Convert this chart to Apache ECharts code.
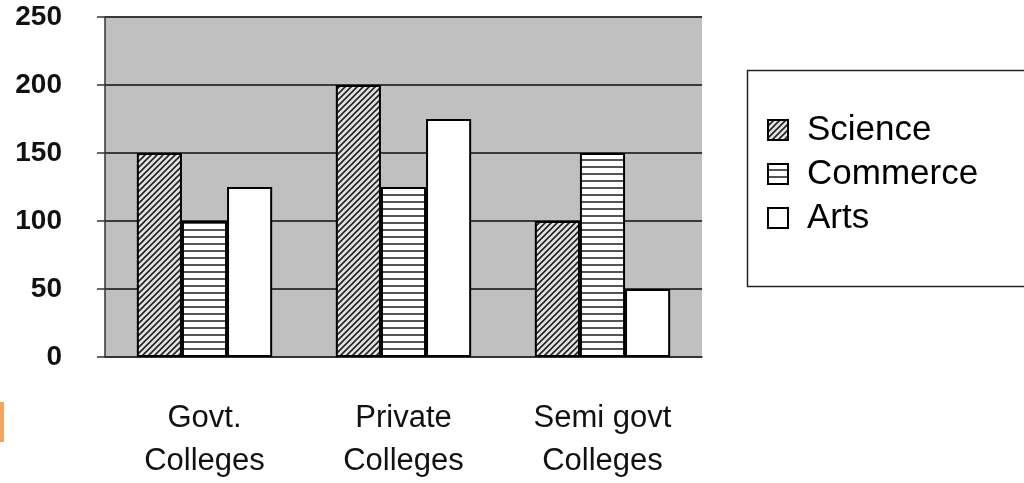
<!DOCTYPE html>
<html>
<head>
<meta charset="utf-8">
<script src="https://cdn.jsdelivr.net/npm/echarts@6/dist/echarts.min.js"></script>
<style>
  html, body { margin: 0; padding: 0; background: #fff; }
  #chart { width: 1024px; height: 483px; }
</style>
</head>
<body>
<div id="chart"></div>
<script>
// data
var categories = ['Govt.\nColleges', 'Private\nColleges', 'Semi govt\nColleges']
var science = [150, 200, 100]
var commerce = [100, 125, 150]
var arts = [125, 175, 50]
var yTicks = { min: 0, max: 250, interval: 50 }

// diagonal hatch for Science
function makeHatch() {
    var c = document.createElement('canvas')
    c.width = 6
    c.height = 6
    var ctx = c.getContext('2d')
    ctx.fillStyle = '#e4e4e4'
    ctx.fillRect(0, 0, 6, 6)
    ctx.strokeStyle = '#222'
    ctx.lineWidth = 1.6
    ctx.beginPath()
    ctx.moveTo(-1, 7); ctx.lineTo(7, -1)
    ctx.moveTo(-4, 4); ctx.lineTo(4, -4)
    ctx.moveTo(2, 10); ctx.lineTo(10, 2)
    ctx.stroke()
    return c
}
// horizontal lines for Commerce
function makeLines() {
    var c = document.createElement('canvas')
    c.width = 4
    c.height = 7
    var ctx = c.getContext('2d')
    ctx.fillStyle = '#fff'
    ctx.fillRect(0, 0, 4, 7)
    ctx.fillStyle = '#555'
    ctx.fillRect(0, 5, 4, 2)
    return c
}

var chart = echarts.init(document.getElementById('chart'))
var barStyle = { borderColor: '#000', borderWidth: 2 }

chart.setOption({
    animation: false,
    grid: { left: 105, right: 322, top: 17, bottom: 126, show: true, backgroundColor: '#c0c0c0', borderWidth: 0 },
    legend: {
        orient: 'vertical',
        left: 762,
        top: 107,
        itemWidth: 20,
        itemHeight: 20,
        itemGap: 8,
        icon: 'rect',
        textStyle: { fontFamily: 'Liberation Sans', fontSize: 35, lineHeight: 36, color: '#000', padding: [0, 0, 0, 14] },
        data: ['Science', 'Commerce', 'Arts']
    },
    graphic: [
        { type: 'rect', left: 745, top: 68, shape: { width: 290, height: 216 }, style: { fill: 'none', stroke: '#222', lineWidth: 1.5 }, z: -1 },
        { type: 'rect', left: 0, top: 402, shape: { width: 4, height: 40 }, style: { fill: '#f7a35c' } }
    ],
    xAxis: {
        type: 'category',
        data: categories,
        axisLine: { lineStyle: { color: '#333', width: 1.5 } },
        axisTick: { length: 12, lineStyle: { color: '#333', width: 1.5 } },
        axisLabel: { fontFamily: 'Liberation Sans', fontSize: 31, color: '#111', lineHeight: 43, margin: 40 }
    },
    yAxis: {
        type: 'value',
        min: yTicks.min,
        max: yTicks.max,
        interval: yTicks.interval,
        axisLine: { show: true, lineStyle: { color: '#333', width: 1.5 } },
        axisTick: { show: true, length: 8, lineStyle: { color: '#333', width: 1.5 } },
        axisLabel: { fontFamily: 'Liberation Sans', fontWeight: 'bold', fontSize: 28, color: '#111', margin: 43 },
        splitLine: { lineStyle: { color: '#3a3a3a', width: 2 } }
    },
    series: [
        {
            name: 'Science', type: 'bar', data: science, barGap: '0%', barCategoryGap: '32%',
            itemStyle: Object.assign({ color: { image: makeHatch(), repeat: 'repeat' } }, barStyle)
        },
        {
            name: 'Commerce', type: 'bar', data: commerce,
            itemStyle: Object.assign({ color: { image: makeLines(), repeat: 'repeat' } }, barStyle)
        },
        {
            name: 'Arts', type: 'bar', data: arts,
            itemStyle: Object.assign({ color: '#fff' }, barStyle)
        }
    ]
})
</script>
</body>
</html>
